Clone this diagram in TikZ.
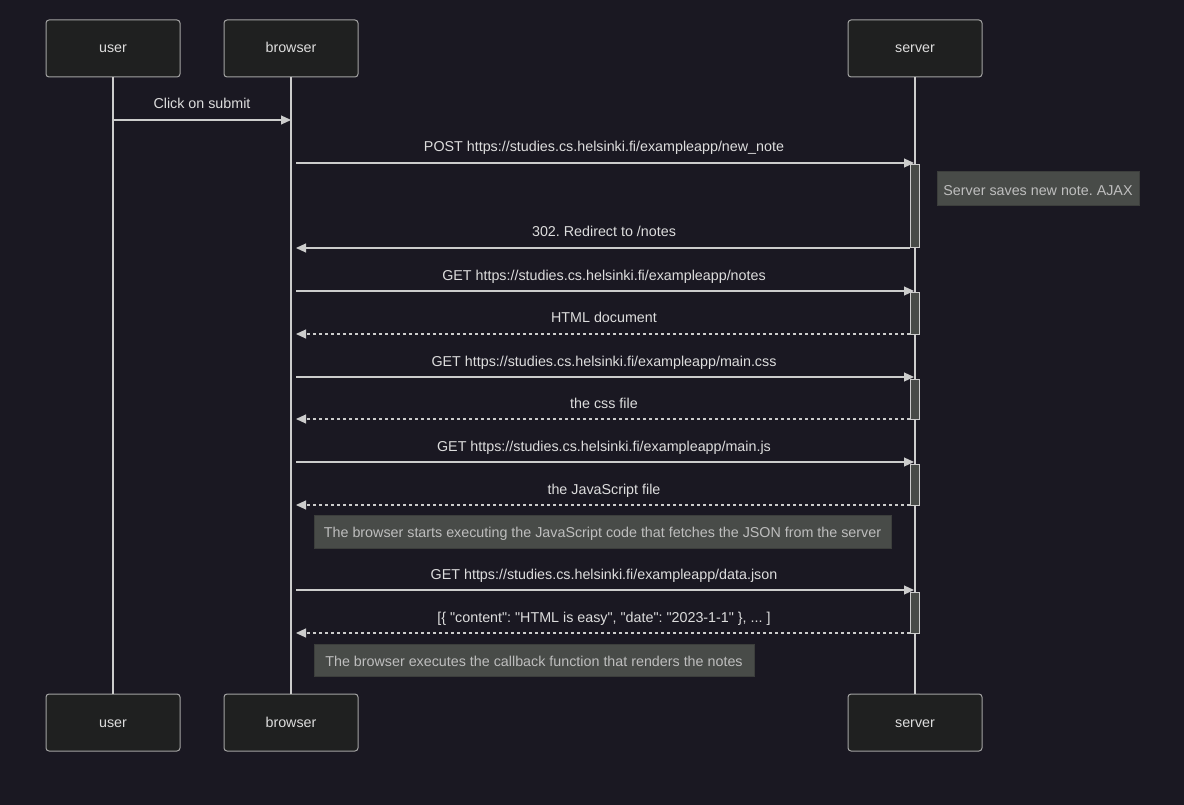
\documentclass[tikz,border=0pt]{standalone}
\usepackage{fontspec}
\setmainfont{Liberation Sans}[Ligatures=TeXOff]
\usetikzlibrary{arrows.meta}
\definecolor{bgc}{RGB}{26,24,34}
\definecolor{actfill}{RGB}{31,32,32}
\definecolor{linec}{RGB}{204,204,204}
\definecolor{txtc}{RGB}{221,221,221}
\definecolor{notefill}{RGB}{72,75,72}
\definecolor{notedraw}{RGB}{60,62,60}
\definecolor{notetxt}{RGB}{190,190,190}
\frenchspacing
\begin{document}
\begin{tikzpicture}[x=1pt,y=-1pt,
  actor/.style={draw=linec!80!black, fill=actfill, rounded corners=3pt, line width=1pt,
    minimum width=134pt, minimum height=57pt, inner sep=0pt, text=txtc,
    text height=11pt, text depth=2pt,
    font=\fontsize{14.3}{17}\selectfont},
  lifeline/.style={draw=linec, line width=1.6pt},
  actbar/.style={draw=linec, fill=notefill, line width=1pt, minimum width=9.5pt, inner sep=0pt},
  msg/.style={draw=linec, line width=1.1pt, -{Triangle[length=10pt,width=9pt]}},
  reply/.style={msg, dash pattern=on 3pt off 3pt},
  lbl/.style={text=txtc, inner sep=0pt, text height=12pt, text depth=2pt,
    font=\fontsize{14.3}{17}\selectfont},
  notebox/.style={draw=notedraw, fill=notefill, line width=1pt, inner sep=0pt, text=notetxt,
    text height=13pt, text depth=0.4pt,
    font=\fontsize{14.3}{17}\selectfont}]
\fill[bgc] (0,0) rectangle (1184,805);
\useasboundingbox (0,0) rectangle (1184,805);

% actors
\node[actor] (ut) at (113,48.5) {user};
\node[actor] (bt) at (291,48.5) {browser};
\node[actor] (st) at (915,48.5) {server};
\node[actor] (ub) at (113,722.5) {user};
\node[actor] (bb) at (291,722.5) {browser};
\node[actor] (sb) at (915,722.5) {server};

% lifelines
\draw[lifeline] (ut.south) -- (ub.north);
\draw[lifeline] (bt.south) -- (bb.north);
\draw[lifeline] (st.south) -- (sb.north);

% activation bars
\node[actbar, minimum height=83pt] (a1) at (915,206.5) {};
\node[actbar, minimum height=41pt] (a2) at (915,313.5) {};
\node[actbar, minimum height=40pt] (a3) at (915,399) {};
\node[actbar, minimum height=41pt] (a4) at (915,484.5) {};
\node[actbar, minimum height=41pt] (a5) at (915,612.5) {};

% message endpoints
\coordinate (c1s) at (113,120);  \coordinate (c1e) at (291,120);
\coordinate (c2s) at (296,163);  \coordinate (c2e) at (914,163);
\coordinate (c3s) at (910,248);  \coordinate (c3e) at (296,248);
\coordinate (c4s) at (296,291);  \coordinate (c4e) at (914,291);
\coordinate (c5s) at (910,334);  \coordinate (c5e) at (296,334);
\coordinate (c6s) at (296,377);  \coordinate (c6e) at (914,377);
\coordinate (c7s) at (910,419);  \coordinate (c7e) at (296,419);
\coordinate (c8s) at (296,462);  \coordinate (c8e) at (914,462);
\coordinate (c9s) at (910,505);  \coordinate (c9e) at (296,505);
\coordinate (c10s) at (296,590); \coordinate (c10e) at (914,590);
\coordinate (c11s) at (910,633); \coordinate (c11e) at (296,633);

\draw[msg] (c1s) -- (c1e);
\draw[msg] (c2s) -- (c2e);
\draw[msg] (c3s) -- (c3e);
\draw[msg] (c4s) -- (c4e);
\draw[reply] (c5s) -- (c5e);
\draw[msg] (c6s) -- (c6e);
\draw[reply] (c7s) -- (c7e);
\draw[msg] (c8s) -- (c8e);
\draw[reply] (c9s) -- (c9e);
\draw[msg] (c10s) -- (c10e);
\draw[reply] (c11s) -- (c11e);

% labels
\node[lbl] (l1) at (202,104) {Click on submit};
\node[lbl] (l2) at (604,147) {POST https://studies.cs.helsinki.fi/exampleapp/new\_note};
\node[lbl] (l3) at (604,232) {302. Redirect to /notes};
\node[lbl] (l4) at (604,275) {GET https://studies.cs.helsinki.fi/exampleapp/notes};
\node[lbl] (l5) at (604,318) {HTML document};
\node[lbl] (l6) at (604,361) {GET https://studies.cs.helsinki.fi/exampleapp/main.css};
\node[lbl] (l7) at (604,403) {the css file};
\node[lbl] (l8) at (604,446) {GET https://studies.cs.helsinki.fi/exampleapp/main.js};
\node[lbl] (l9) at (604,489) {the JavaScript file};
\node[lbl] (l10) at (604,574) {GET https://studies.cs.helsinki.fi/exampleapp/data.json};
\node[lbl] (l11) at (604,617) {[\{ "content": "HTML is easy", "date": "2023-1-1" \}, ... ]};

% notes
\node[notebox, minimum width=202pt, minimum height=34pt] (n1) at (1038,189) {Server saves new note. AJAX};
\node[notebox, minimum width=577pt, minimum height=33pt] (n2) at (602.5,531.5) {The browser starts executing the JavaScript code that fetches the JSON from the server};
\node[notebox, minimum width=440pt, minimum height=32pt] (n3) at (534,660) {The browser executes the callback function that renders the notes};
\end{tikzpicture}
\end{document}
